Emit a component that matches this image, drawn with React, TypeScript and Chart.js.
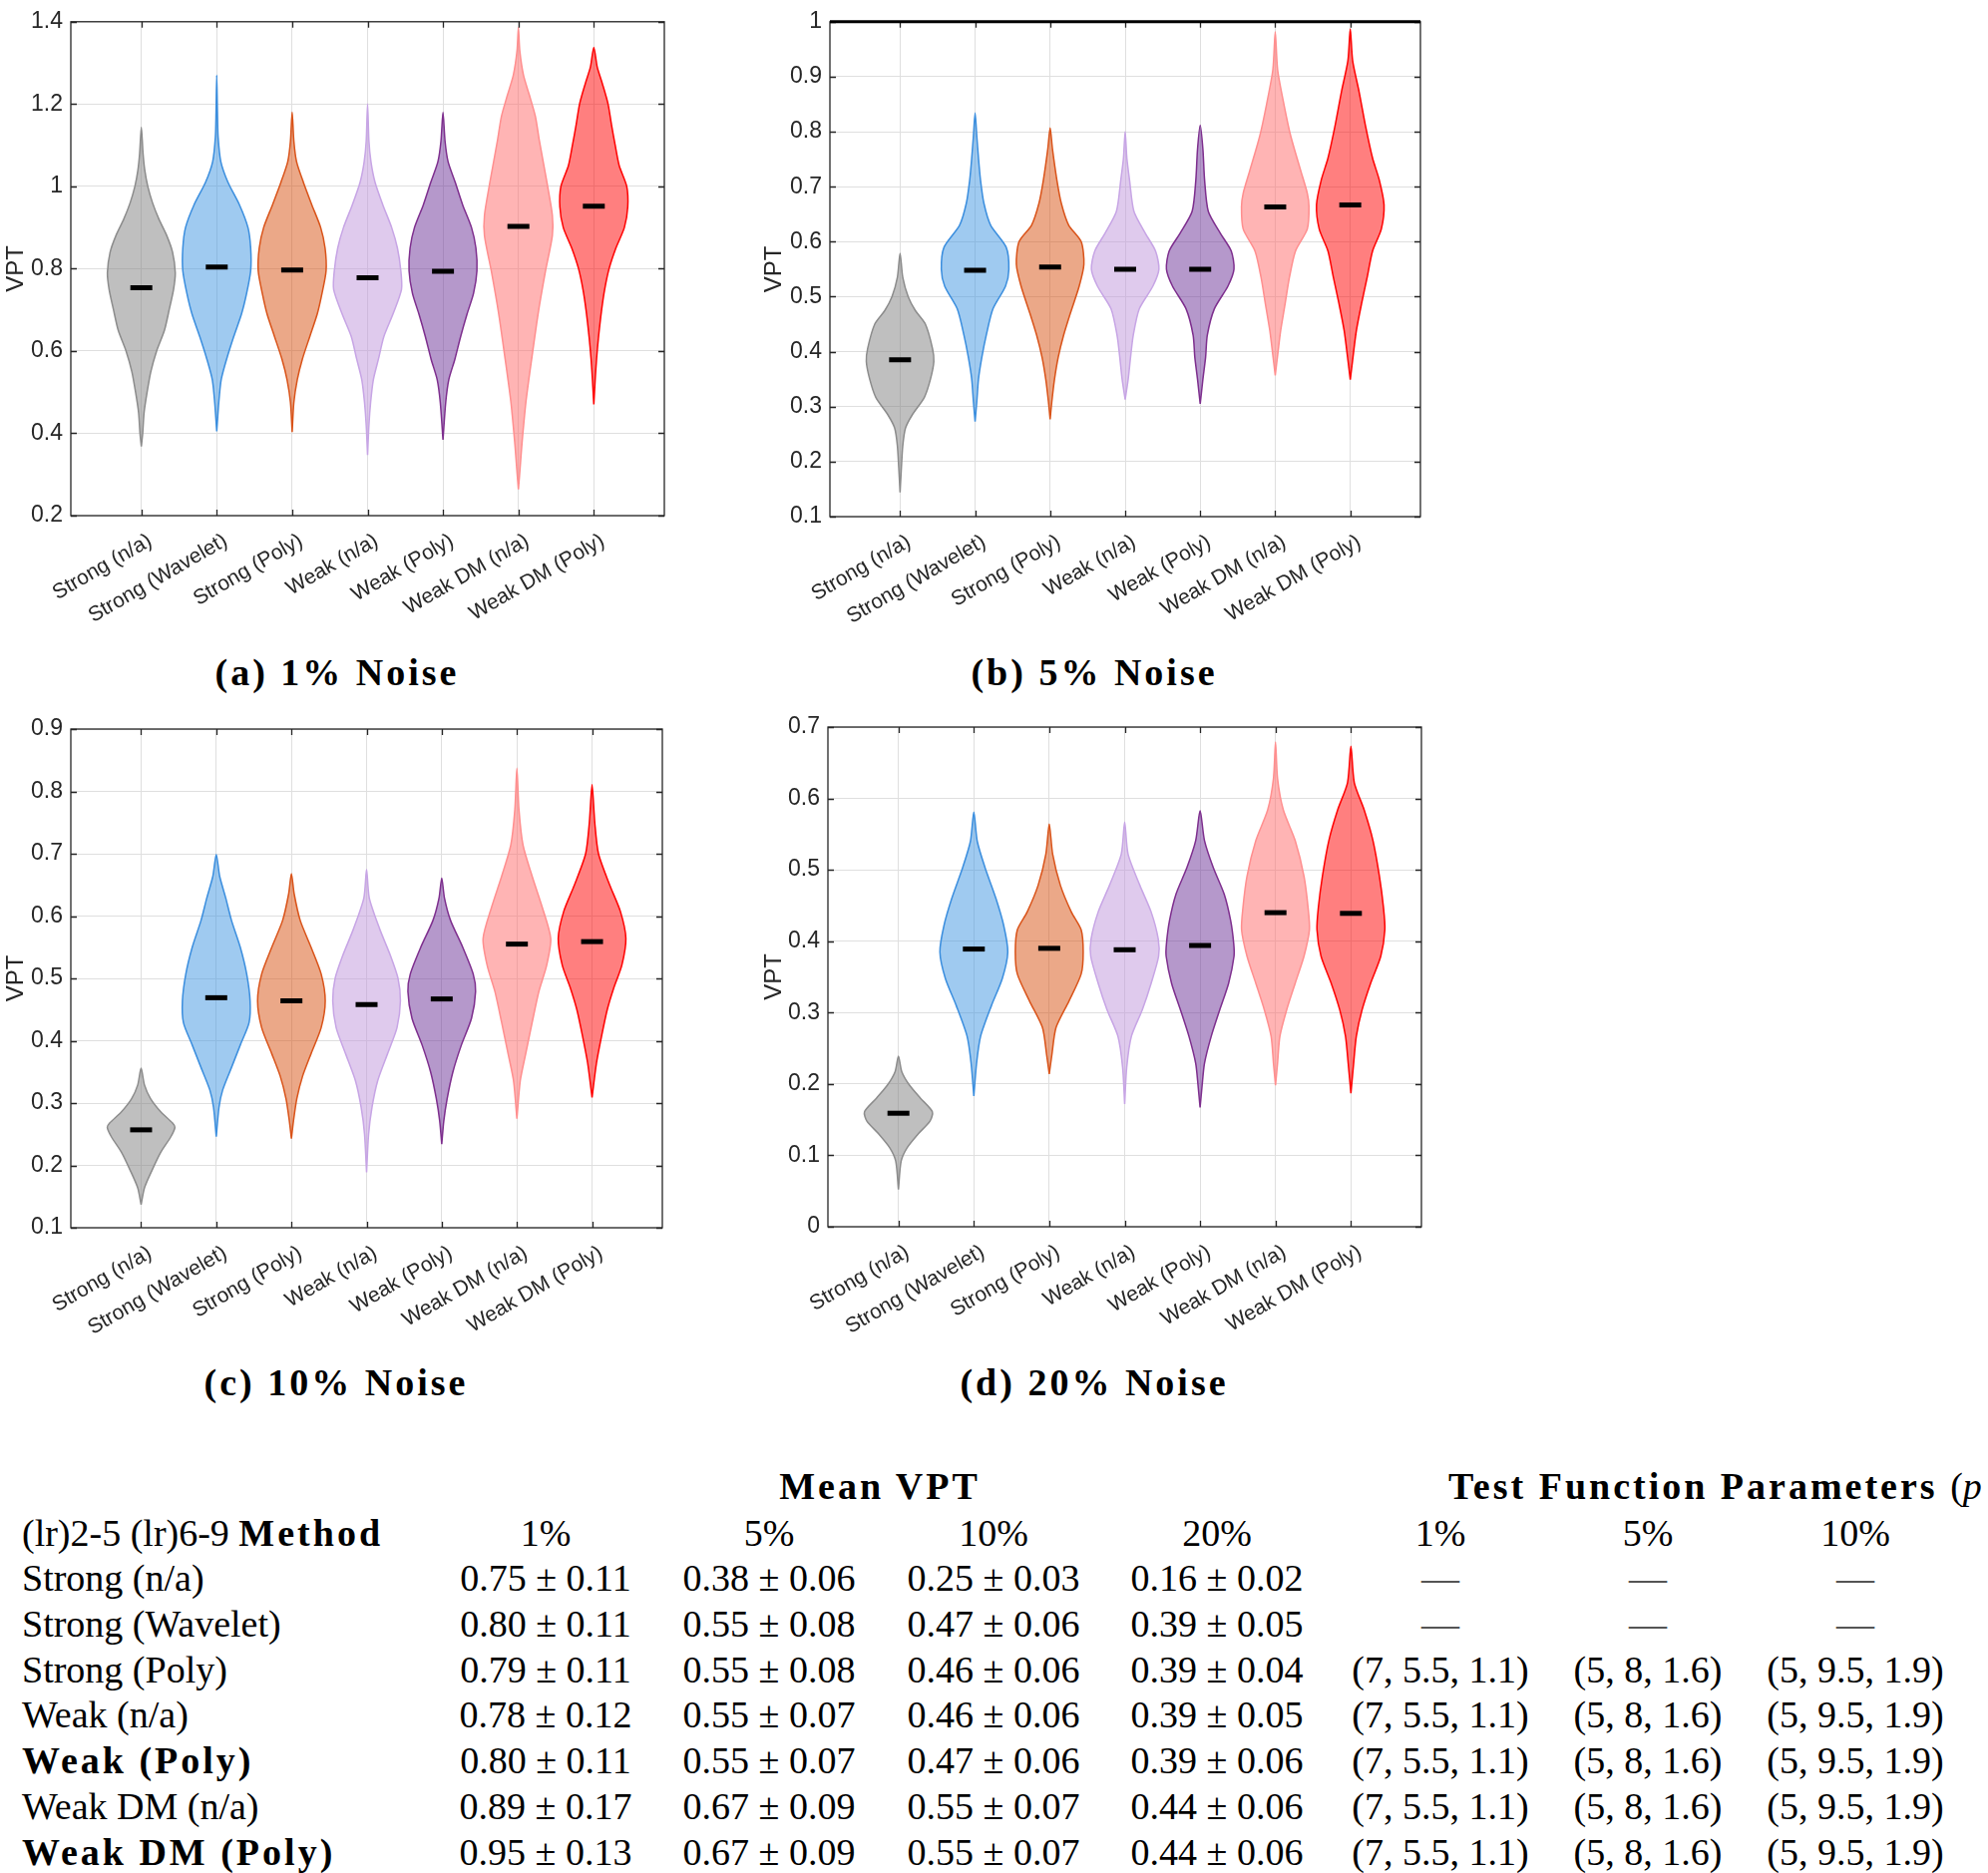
import React, { useEffect, useRef } from 'react';
import { Chart, registerables } from 'chart.js';

Chart.register(...registerables);

// ---------------- data ----------------
const METHODS = ['Strong (n/a)', 'Strong (Wavelet)', 'Strong (Poly)', 'Weak (n/a)', 'Weak (Poly)', 'Weak DM (n/a)', 'Weak DM (Poly)'];
const POSITIONS = [1, 2, 3, 4, 5, 6, 7];
const X_LIMITS = [0.065, 7.935];

const VIOLIN_FILLS = ['rgba(128,128,128,0.5)', 'rgba(63,149,225,0.5)', 'rgba(215,81,17,0.5)', 'rgba(191,149,219,0.5)', 'rgba(107,49,151,0.5)', 'rgba(255,105,105,0.5)', 'rgba(255,0,0,0.5)'];
const VIOLIN_EDGES = ['#8c8c8c', '#3b8ede', '#d95319', '#c7a5e5', '#7e2f8e', '#ff8f8f', '#ff0000'];

// y ranges [min, max, step]
const Y_RANGE_1 = [0.2, 1.4, 0.2];
const Y_RANGE_5 = [0.1, 1.0, 0.1];
const Y_RANGE_10 = [0.1, 0.9, 0.1];
const Y_RANGE_20 = [0, 0.7, 0.1];

// mean markers
const MEANS_1 = [0.754, 0.804, 0.797, 0.778, 0.794, 0.903, 0.952];
const MEANS_5 = [0.385, 0.548, 0.554, 0.55, 0.55, 0.663, 0.667];
const MEANS_10 = [0.257, 0.469, 0.464, 0.458, 0.467, 0.555, 0.559];
const MEANS_20 = [0.159, 0.389, 0.39, 0.388, 0.394, 0.44, 0.439];

// violin profiles: [VPT value, relative density width] from bottom tip to top tip
const VIOLINS_1 = [
  [[0.368, 0], [0.40, 0.04], [0.45, 0.08], [0.50, 0.17], [0.55, 0.28], [0.60, 0.45], [0.65, 0.68], [0.70, 0.82], [0.75, 0.95], [0.79, 1.0], [0.84, 0.92], [0.88, 0.75], [0.92, 0.52], [0.96, 0.33], [1.0, 0.19], [1.04, 0.1], [1.08, 0.05], [1.144, 0]],
  [[0.405, 0], [0.475, 0.06], [0.53, 0.13], [0.58, 0.29], [0.635, 0.5], [0.69, 0.73], [0.74, 0.88], [0.795, 1.0], [0.85, 1.0], [0.90, 0.92], [0.955, 0.67], [1.01, 0.33], [1.06, 0.12], [1.12, 0.04], [1.18, 0.02], [1.27, 0]],
  [[0.403, 0], [0.475, 0.05], [0.53, 0.15], [0.58, 0.3], [0.635, 0.52], [0.69, 0.74], [0.74, 0.88], [0.795, 1.0], [0.85, 0.97], [0.90, 0.84], [0.955, 0.58], [1.01, 0.33], [1.06, 0.13], [1.11, 0.05], [1.18, 0]],
  [[0.347, 0], [0.42, 0.04], [0.475, 0.09], [0.53, 0.17], [0.58, 0.32], [0.635, 0.48], [0.69, 0.75], [0.75, 1.0], [0.795, 0.98], [0.85, 0.88], [0.90, 0.71], [0.955, 0.45], [1.01, 0.22], [1.06, 0.1], [1.11, 0.04], [1.2, 0]],
  [[0.384, 0], [0.475, 0.08], [0.53, 0.17], [0.58, 0.35], [0.635, 0.52], [0.69, 0.71], [0.74, 0.9], [0.795, 1.0], [0.85, 0.97], [0.90, 0.84], [0.955, 0.58], [1.01, 0.36], [1.06, 0.15], [1.11, 0.06], [1.18, 0]],
  [[0.264, 0], [0.315, 0.05], [0.37, 0.1], [0.475, 0.22], [0.58, 0.39], [0.69, 0.58], [0.795, 0.8], [0.88, 1.0], [0.93, 1.0], [1.01, 0.84], [1.11, 0.62], [1.17, 0.5], [1.22, 0.33], [1.27, 0.15], [1.33, 0.04], [1.386, 0]],
  [[0.47, 0], [0.53, 0.04], [0.58, 0.08], [0.635, 0.14], [0.70, 0.23], [0.75, 0.32], [0.80, 0.45], [0.85, 0.65], [0.90, 0.9], [0.95, 1.0], [1.0, 0.97], [1.05, 0.75], [1.1, 0.63], [1.15, 0.52], [1.2, 0.42], [1.25, 0.25], [1.29, 0.1], [1.338, 0]],
];
const VIOLINS_5 = [
  [[0.144, 0], [0.19, 0.04], [0.229, 0.08], [0.261, 0.16], [0.285, 0.36], [0.317, 0.72], [0.35, 0.9], [0.382, 1.0], [0.406, 0.96], [0.45, 0.75], [0.475, 0.45], [0.5, 0.24], [0.535, 0.08], [0.579, 0]],
  [[0.273, 0], [0.309, 0.05], [0.35, 0.1], [0.39, 0.2], [0.43, 0.33], [0.478, 0.53], [0.519, 0.9], [0.55, 1.0], [0.59, 0.92], [0.63, 0.46], [0.67, 0.26], [0.712, 0.16], [0.752, 0.1], [0.792, 0.05], [0.834, 0]],
  [[0.277, 0], [0.309, 0.05], [0.35, 0.13], [0.39, 0.24], [0.43, 0.4], [0.47, 0.6], [0.519, 0.86], [0.559, 1.0], [0.6, 0.92], [0.63, 0.55], [0.67, 0.33], [0.712, 0.2], [0.768, 0.07], [0.807, 0]],
  [[0.313, 0], [0.35, 0.09], [0.39, 0.16], [0.43, 0.24], [0.478, 0.42], [0.519, 0.82], [0.55, 1.0], [0.583, 0.9], [0.615, 0.6], [0.655, 0.26], [0.712, 0.13], [0.752, 0.05], [0.8, 0]],
  [[0.305, 0], [0.35, 0.08], [0.39, 0.16], [0.43, 0.21], [0.478, 0.42], [0.519, 0.82], [0.55, 1.0], [0.583, 0.92], [0.615, 0.6], [0.655, 0.24], [0.712, 0.13], [0.768, 0.08], [0.812, 0]],
  [[0.357, 0], [0.398, 0.08], [0.438, 0.16], [0.486, 0.29], [0.535, 0.42], [0.583, 0.6], [0.623, 0.95], [0.663, 1.0], [0.688, 0.95], [0.728, 0.76], [0.792, 0.46], [0.849, 0.26], [0.913, 0.07], [0.982, 0]],
  [[0.349, 0], [0.39, 0.08], [0.438, 0.18], [0.486, 0.33], [0.535, 0.5], [0.583, 0.66], [0.623, 0.92], [0.667, 1.0], [0.712, 0.86], [0.752, 0.66], [0.808, 0.46], [0.873, 0.26], [0.929, 0.07], [0.987, 0]],
];
const VIOLINS_10 = [
  [[0.137, 0], [0.164, 0.1], [0.193, 0.33], [0.221, 0.58], [0.246, 0.88], [0.261, 1.0], [0.268, 0.93], [0.286, 0.58], [0.307, 0.28], [0.329, 0.1], [0.356, 0]],
  [[0.246, 0], [0.293, 0.08], [0.321, 0.19], [0.357, 0.45], [0.393, 0.71], [0.429, 0.97], [0.464, 1.0], [0.507, 0.9], [0.55, 0.71], [0.593, 0.45], [0.629, 0.28], [0.664, 0.1], [0.699, 0]],
  [[0.243, 0], [0.271, 0.06], [0.307, 0.16], [0.343, 0.33], [0.379, 0.58], [0.421, 0.88], [0.464, 1.0], [0.507, 0.88], [0.55, 0.58], [0.593, 0.26], [0.636, 0.08], [0.668, 0]],
  [[0.189, 0], [0.25, 0.06], [0.293, 0.16], [0.336, 0.33], [0.379, 0.62], [0.421, 0.9], [0.464, 1.0], [0.5, 0.93], [0.536, 0.71], [0.579, 0.39], [0.629, 0.08], [0.675, 0]],
  [[0.234, 0], [0.271, 0.06], [0.307, 0.16], [0.35, 0.33], [0.393, 0.58], [0.436, 0.88], [0.479, 1.0], [0.507, 0.93], [0.55, 0.62], [0.593, 0.26], [0.629, 0.08], [0.661, 0]],
  [[0.275, 0], [0.336, 0.1], [0.379, 0.26], [0.429, 0.45], [0.479, 0.65], [0.521, 0.88], [0.564, 1.0], [0.614, 0.75], [0.664, 0.45], [0.714, 0.18], [0.771, 0.06], [0.837, 0]],
  [[0.309, 0], [0.364, 0.13], [0.407, 0.28], [0.45, 0.45], [0.486, 0.65], [0.521, 0.88], [0.564, 1.0], [0.607, 0.84], [0.65, 0.52], [0.7, 0.19], [0.75, 0.08], [0.811, 0]],
];
const VIOLINS_20 = [
  [[0.052, 0], [0.092, 0.08], [0.111, 0.26], [0.13, 0.58], [0.148, 0.93], [0.161, 1.0], [0.18, 0.65], [0.198, 0.33], [0.217, 0.1], [0.239, 0]],
  [[0.183, 0], [0.229, 0.08], [0.267, 0.2], [0.31, 0.52], [0.348, 0.84], [0.385, 1.0], [0.422, 0.88], [0.46, 0.65], [0.503, 0.33], [0.54, 0.1], [0.581, 0]],
  [[0.214, 0], [0.242, 0.08], [0.279, 0.2], [0.316, 0.58], [0.354, 0.94], [0.385, 1.0], [0.416, 0.94], [0.441, 0.65], [0.478, 0.33], [0.522, 0.1], [0.564, 0]],
  [[0.172, 0], [0.223, 0.06], [0.267, 0.2], [0.304, 0.52], [0.341, 0.78], [0.379, 1.0], [0.403, 0.99], [0.441, 0.78], [0.478, 0.45], [0.522, 0.1], [0.567, 0]],
  [[0.167, 0], [0.198, 0.06], [0.229, 0.13], [0.267, 0.33], [0.304, 0.58], [0.341, 0.84], [0.379, 1.0], [0.397, 0.99], [0.429, 0.9], [0.466, 0.71], [0.503, 0.39], [0.541, 0.13], [0.583, 0]],
  [[0.198, 0], [0.229, 0.06], [0.267, 0.13], [0.304, 0.33], [0.341, 0.58], [0.379, 0.84], [0.416, 1.0], [0.447, 0.96], [0.491, 0.84], [0.541, 0.58], [0.584, 0.23], [0.628, 0.06], [0.679, 0]],
  [[0.187, 0], [0.229, 0.08], [0.267, 0.16], [0.304, 0.33], [0.341, 0.58], [0.379, 0.88], [0.416, 1.0], [0.447, 0.96], [0.491, 0.84], [0.541, 0.65], [0.584, 0.39], [0.622, 0.1], [0.673, 0]],
];

const CAPTIONS = ['(a) 1% Noise', '(b) 5% Noise', '(c) 10% Noise', '(d) 20% Noise'];

// table
const TABLE_METHODS = ['Strong (n/a)', 'Strong (Wavelet)', 'Strong (Poly)', 'Weak (n/a)', 'Weak (Poly)', 'Weak DM (n/a)', 'Weak DM (Poly)'];
const TABLE_BOLD = [false, false, false, false, true, false, true];
const TABLE_HEADERS = ['1%', '5%', '10%', '20%', '1%', '5%', '10%'];
const MEAN_VPT_1 = ['0.75 ± 0.11', '0.80 ± 0.11', '0.79 ± 0.11', '0.78 ± 0.12', '0.80 ± 0.11', '0.89 ± 0.17', '0.95 ± 0.13'];
const MEAN_VPT_5 = ['0.38 ± 0.06', '0.55 ± 0.08', '0.55 ± 0.08', '0.55 ± 0.07', '0.55 ± 0.07', '0.67 ± 0.09', '0.67 ± 0.09'];
const MEAN_VPT_10 = ['0.25 ± 0.03', '0.47 ± 0.06', '0.46 ± 0.06', '0.46 ± 0.06', '0.47 ± 0.06', '0.55 ± 0.07', '0.55 ± 0.07'];
const MEAN_VPT_20 = ['0.16 ± 0.02', '0.39 ± 0.05', '0.39 ± 0.04', '0.39 ± 0.05', '0.39 ± 0.06', '0.44 ± 0.06', '0.44 ± 0.06'];
const PARAMS_1 = ['—', '—', '(7, 5.5, 1.1)', '(7, 5.5, 1.1)', '(7, 5.5, 1.1)', '(7, 5.5, 1.1)', '(7, 5.5, 1.1)'];
const PARAMS_5 = ['—', '—', '(5, 8, 1.6)', '(5, 8, 1.6)', '(5, 8, 1.6)', '(5, 8, 1.6)', '(5, 8, 1.6)'];
const PARAMS_10 = ['—', '—', '(5, 9.5, 1.9)', '(5, 9.5, 1.9)', '(5, 9.5, 1.9)', '(5, 9.5, 1.9)', '(5, 9.5, 1.9)'];

// ---------------- styling / layout ----------------
const SANS = '"Liberation Sans", Arial, Helvetica, sans-serif';
const SERIF = '"Liberation Serif", "Times New Roman", serif';
const AXIS_COLOR = '#262626';
const GRID_COLOR = '#dfdfdf';
const HALF_WIDTH = 0.45;

const PANELS = [
  { canvas: { left: 0, top: 0, w: 740, h: 650 }, box: { left: 71, top: 15, right: 666, bottom: 517 }, yRange: Y_RANGE_1, means: MEANS_1, violins: VIOLINS_1, topWidth: 0 },
  { canvas: { left: 760, top: 0, w: 740, h: 650 }, box: { left: 72, top: 18, right: 664, bottom: 518 }, yRange: Y_RANGE_5, means: MEANS_5, violins: VIOLINS_5, topWidth: 3 },
  { canvas: { left: 0, top: 700, w: 740, h: 650 }, box: { left: 71, top: 31, right: 664, bottom: 531 }, yRange: Y_RANGE_10, means: MEANS_10, violins: VIOLINS_10, topWidth: 0 },
  { canvas: { left: 760, top: 700, w: 740, h: 650 }, box: { left: 70, top: 29, right: 665, bottom: 530 }, yRange: Y_RANGE_20, means: MEANS_20, violins: VIOLINS_20, topWidth: 0 },
];
const CAPTION_POS = [[338, 674], [1097, 674], [337, 1386], [1097, 1386]];

const framePlugin = {
  id: 'matlabFrame',
  afterDatasetsDraw(chart: any, _args: any, opts: any) {
    const { ctx, chartArea } = chart;
    const { left, top, right, bottom } = chartArea;
    const xs = chart.scales.x;
    const ys = chart.scales.y;
    const tl = 6;
    ctx.save();
    ctx.strokeStyle = AXIS_COLOR;
    ctx.lineWidth = 1.3;
    ctx.beginPath();
    ys.ticks.forEach((t: any) => {
      const p = Math.round(ys.getPixelForValue(t.value)) + 0.5;
      ctx.moveTo(left, p); ctx.lineTo(left + tl, p);
      ctx.moveTo(right, p); ctx.lineTo(right - tl, p);
    });
    xs.ticks.forEach((t: any) => {
      const p = Math.round(xs.getPixelForValue(t.value)) + 0.5;
      ctx.moveTo(p, bottom); ctx.lineTo(p, bottom - tl);
      ctx.moveTo(p, top); ctx.lineTo(p, top + tl);
    });
    ctx.stroke();
    ctx.strokeRect(left, top, right - left, bottom - top);
    if (opts && opts.topWidth) {
      ctx.strokeStyle = '#000';
      ctx.lineWidth = opts.topWidth;
      ctx.beginPath();
      ctx.moveTo(left, top);
      ctx.lineTo(right, top);
      ctx.stroke();
    }
    ctx.restore();
  },
};

function ViolinPanel({ panel }: { panel: any }) {
  const ref = useRef<HTMLCanvasElement>(null);
  useEffect(() => {
    const { canvas, box, yRange, means, violins, topWidth } = panel;
    const datasets: any[] = [];
    datasets.push({
      data: means.map((m: number, i: number) => ({ x: POSITIONS[i], y: m })),
      showLine: false,
      pointStyle: 'line',
      pointRadius: 11,
      pointBorderWidth: 5,
      pointBorderColor: '#000',
      pointBackgroundColor: '#000',
      borderColor: '#000',
      order: 0,
    });
    violins.forEach((prof: number[][], i: number) => {
      const c = POSITIONS[i];
      const rightSide = prof.map(([y, w]) => ({ x: c + w * HALF_WIDTH, y }));
      const leftSide = prof.slice().reverse().map(([y, w]) => ({ x: c - w * HALF_WIDTH, y }));
      datasets.push({
        data: [...rightSide, ...leftSide.slice(1)],
        borderColor: VIOLIN_EDGES[i],
        backgroundColor: VIOLIN_FILLS[i],
        borderWidth: 1.5,
        pointRadius: 0,
        fill: 'shape',
        tension: 0.25,
        order: 1,
      });
    });
    const chart = new Chart(ref.current as HTMLCanvasElement, {
      type: 'line',
      data: { datasets },
      plugins: [framePlugin],
      options: {
        animation: false,
        responsive: false,
        maintainAspectRatio: false,
        devicePixelRatio: 1,
        events: [],
        layout: { padding: { left: 0, top: box.top, right: canvas.w - box.right, bottom: 0 } },
        plugins: {
          legend: { display: false },
          tooltip: { enabled: false },
          matlabFrame: { topWidth },
        } as any,
        scales: {
          x: {
            type: 'linear',
            min: X_LIMITS[0],
            max: X_LIMITS[1],
            afterBuildTicks: (s: any) => { s.ticks = POSITIONS.map((v) => ({ value: v })); },
            afterFit: (s: any) => { s.height = canvas.h - box.bottom; },
            ticks: {
              autoSkip: false,
              minRotation: 30,
              maxRotation: 30,
              padding: 13,
              labelOffset: 9,
              color: AXIS_COLOR,
              font: { family: SANS, size: 21 },
              callback: (v: any) => METHODS[POSITIONS.indexOf(Number(v))] ?? '',
            },
            grid: { color: GRID_COLOR, lineWidth: 1, drawTicks: false },
            border: { display: false },
          },
          y: {
            type: 'linear',
            min: yRange[0],
            max: yRange[1],
            afterFit: (s: any) => { s.width = box.left; },
            ticks: {
              stepSize: yRange[2],
              padding: 8,
              color: AXIS_COLOR,
              font: { family: SANS, size: 23 },
              callback: (v: any) => String(Math.round(Number(v) * 10) / 10),
            },
            title: { display: true, text: 'VPT', color: AXIS_COLOR, font: { family: SANS, size: 24 }, padding: { top: 2, bottom: 4 } },
            grid: { color: GRID_COLOR, lineWidth: 1, drawTicks: false },
            border: { display: false },
          },
        },
      } as any,
    });
    return () => chart.destroy();
  }, [panel]);
  const { canvas } = panel;
  return (
    <canvas
      ref={ref}
      width={canvas.w}
      height={canvas.h}
      style={{ position: 'absolute', left: canvas.left, top: canvas.top, width: canvas.w, height: canvas.h }}
    />
  );
}

function T({ x, y, align = 'center', bold = false, color = '#000', children }: any) {
  const style: React.CSSProperties = {
    position: 'absolute',
    top: y - 19,
    height: 38,
    lineHeight: '38px',
    fontSize: 38,
    fontFamily: SERIF,
    fontWeight: bold ? 700 : 400,
    letterSpacing: bold ? 3 : 0,
    whiteSpace: 'nowrap',
    color,
  };
  if (align === 'center') {
    style.left = x - 250;
    style.width = 500;
    style.textAlign = 'center';
  } else {
    style.left = x;
  }
  return <div style={style}>{children}</div>;
}

const COL_X = [547, 771, 996, 1220, 1444, 1652, 1860];
const ROW_Y0 = 1582;
const ROW_DY = 45.8;

export default function App() {
  const valueCols = [MEAN_VPT_1, MEAN_VPT_5, MEAN_VPT_10, MEAN_VPT_20, PARAMS_1, PARAMS_5, PARAMS_10];
  return (
    <div style={{ position: 'absolute', left: 0, top: 0, width: 1993, height: 1878, overflow: 'hidden', background: '#fff' }}>
      {PANELS.map((p, i) => <ViolinPanel key={i} panel={p} />)}
      {CAPTIONS.map((c, i) => (
        <T key={'cap' + i} x={CAPTION_POS[i][0]} y={CAPTION_POS[i][1]} bold>{c}</T>
      ))}
      <T x={882} y={1490} bold>Mean VPT</T>
      <T x={1452} y={1490} align="left" bold>
        Test Function Parameters <span style={{ fontWeight: 400, letterSpacing: 0 }}>(<i>p</i></span>
      </T>
      <T x={22} y={1537} align="left">
        (lr)2-5 (lr)6-9 <span style={{ fontWeight: 700, letterSpacing: 3 }}>Method</span>
      </T>
      {TABLE_HEADERS.map((h, j) => (
        <T key={'h' + j} x={COL_X[j]} y={1537}>{h}</T>
      ))}
      {TABLE_METHODS.map((m, i) => (
        <React.Fragment key={'r' + i}>
          <T x={22} y={ROW_Y0 + i * ROW_DY} align="left" bold={TABLE_BOLD[i]}>{m}</T>
          {valueCols.map((col, j) => (
            <T key={'c' + j} x={COL_X[j]} y={ROW_Y0 + i * ROW_DY} color={col[i] === '—' ? '#555' : '#000'}>{col[i]}</T>
          ))}
        </React.Fragment>
      ))}
    </div>
  );
}
